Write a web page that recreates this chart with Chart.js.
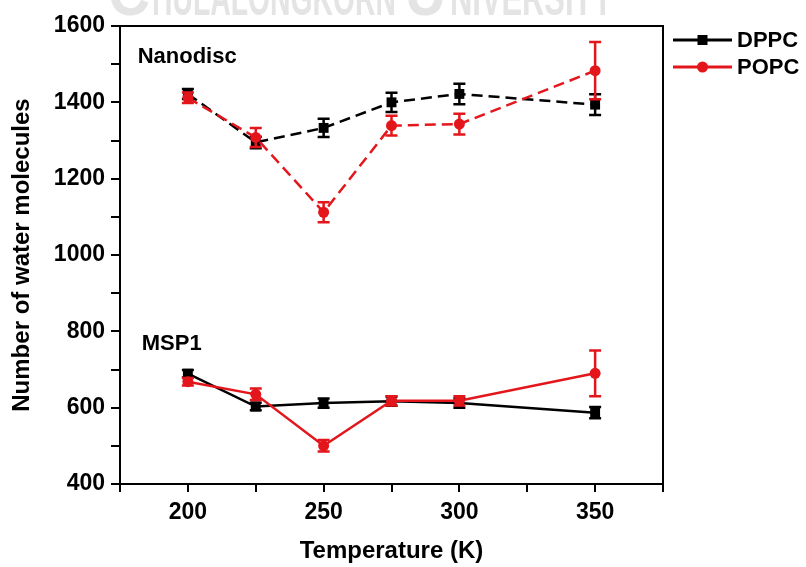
<!DOCTYPE html>
<html>
<head>
<meta charset="utf-8">
<script src="https://cdn.jsdelivr.net/npm/chart.js@4.4.1/dist/chart.umd.min.js"></script>
<style>
html,body{margin:0;padding:0;background:#fff;}
#wrap{width:806px;height:567px;position:relative;}
</style>
</head>
<body>
<div id="wrap"><canvas id="c"></canvas></div>
<script>
// ---- data ----
const temperatures = [200, 225, 250, 275, 300, 350];
const nanodiscDPPC    = [1422, 1295, 1333, 1400, 1422, 1394];
const nanodiscDPPCErr = [13, 15, 24, 25, 27, 27];
const nanodiscPOPC    = [1412, 1308, 1112, 1339, 1343, 1483];
const nanodiscPOPCErr = [14, 25, 26, 26, 27, 75];
const msp1DPPC    = [689, 603, 612, 617, 612, 587];
const msp1DPPCErr = [10, 10, 12, 12, 12, 15];
const msp1POPC    = [668, 635, 500, 618, 618, 690];
const msp1POPCErr = [10, 15, 15, 12, 12, 60];
const xTickLabels = [200, 250, 300, 350];
const yTickLabels = [400, 600, 800, 1000, 1200, 1400, 1600];
const seriesNames = ['DPPC', 'POPC'];
const groupNames = ['Nanodisc', 'MSP1'];

const BLACK = '#000000';
const RED = '#e3161c';
const FONT = '"Liberation Sans", Arial, sans-serif';

function pts(vals) { return temperatures.map((t, i) => ({x: t, y: vals[i]})); }

function ds(label, vals, errs, color, style, dashed, order) {
  return {
    label: label,
    data: pts(vals),
    errors: errs,
    borderColor: color,
    backgroundColor: color,
    borderWidth: 2.5,
    borderDash: dashed ? [11, 6] : [],
    pointStyle: style,
    pointRadius: style === 'rect' ? 7 : 5.5,
    pointBorderWidth: 0,
    pointBackgroundColor: color,
    tension: 0,
    showLine: true,
    order: order
  };
}

const errorBars = {
  id: 'errorBars',
  afterDatasetDraw(chart, args) {
    const d = chart.data.datasets[args.index];
    if (!d.errors) return;
    const ctx = chart.ctx, xs = chart.scales.x, ys = chart.scales.y;
    ctx.save();
    ctx.strokeStyle = d.borderColor;
    ctx.lineWidth = 2.5;
    ctx.setLineDash([]);
    d.data.forEach((p, i) => {
      const e = d.errors[i];
      const px = xs.getPixelForValue(p.x);
      const yt = ys.getPixelForValue(p.y + e);
      const yb = ys.getPixelForValue(p.y - e);
      ctx.beginPath();
      ctx.moveTo(px, yt); ctx.lineTo(px, yb);
      ctx.moveTo(px - 6, yt); ctx.lineTo(px + 6, yt);
      ctx.moveTo(px - 6, yb); ctx.lineTo(px + 6, yb);
      ctx.stroke();
    });
    ctx.restore();
  }
};

const decorations = {
  id: 'decorations',
  afterDraw(chart) {
    const ctx = chart.ctx, a = chart.chartArea, xs = chart.scales.x, ys = chart.scales.y;
    ctx.save();
    // frame
    ctx.strokeStyle = BLACK; ctx.lineWidth = 2; ctx.setLineDash([]);
    ctx.strokeRect(a.left, a.top, a.right - a.left, a.bottom - a.top);
    // group labels
    ctx.fillStyle = BLACK;
    ctx.font = 'bold 22px ' + FONT;
    ctx.textAlign = 'left'; ctx.textBaseline = 'middle';
    ctx.fillText(groupNames[0], xs.getPixelForValue(181.5), ys.getPixelForValue(1519));
    ctx.fillText(groupNames[1], xs.getPixelForValue(183), ys.getPixelForValue(766));
    // legend
    const colors = [BLACK, RED], styles = ['rect', 'circle'];
    ctx.font = 'bold 22px ' + FONT;
    for (let i = 0; i < 2; i++) {
      const y = a.top + 14 + i * 27;
      const x0 = a.right + 10, x1 = a.right + 69, xm = (x0 + x1) / 2;
      ctx.strokeStyle = colors[i]; ctx.lineWidth = 3;
      ctx.beginPath(); ctx.moveTo(x0, y); ctx.lineTo(x1, y); ctx.stroke();
      ctx.fillStyle = colors[i];
      if (styles[i] === 'rect') ctx.fillRect(xm - 5, y - 5, 10, 10);
      else { ctx.beginPath(); ctx.arc(xm, y, 5.5, 0, Math.PI * 2); ctx.fill(); }
      ctx.fillStyle = BLACK;
      ctx.fillText(seriesNames[i], x1 + 5, y + 1);
    }
    ctx.restore();
  },
  beforeDraw(chart) {
    // faint watermark cut by the top edge
    const ctx = chart.ctx;
    ctx.save();
    ctx.fillStyle = '#e4e4e4';
    ctx.textBaseline = 'alphabetic'; ctx.textAlign = 'left';
    const parts = [
      ['C', 108, 150, 64], ['HULALONGKORN', 152, 396, 50],
      ['U', 405, 446, 64], ['NIVERSITY', 450, 613, 50]
    ];
    parts.forEach(([t, x0, x1, size]) => {
      ctx.font = 'bold ' + size + 'px ' + FONT;
      const w = ctx.measureText(t).width;
      ctx.save();
      ctx.translate(x0, 15);
      ctx.scale((x1 - x0) / w, 1);
      ctx.fillText(t, 0, 0);
      ctx.restore();
    });
    ctx.restore();
  }
};

new Chart(document.getElementById('c'), {
  type: 'line',
  data: {
    datasets: [
      ds('Nanodisc DPPC', nanodiscDPPC, nanodiscDPPCErr, BLACK, 'rect', true, 2),
      ds('Nanodisc POPC', nanodiscPOPC, nanodiscPOPCErr, RED, 'circle', true, 1),
      ds('MSP1 DPPC', msp1DPPC, msp1DPPCErr, BLACK, 'rect', false, 2),
      ds('MSP1 POPC', msp1POPC, msp1POPCErr, RED, 'circle', false, 1)
    ]
  },
  options: {
    responsive: true,
    maintainAspectRatio: false,
    animation: false,
    layout: { padding: { top: 26, right: 143, left: 0, bottom: 0 } },
    plugins: { legend: { display: false }, tooltip: { enabled: false } },
    scales: {
      x: {
        type: 'linear', min: 175, max: 375,
        afterFit(s) { s.height = 83; },
        ticks: {
          stepSize: 25, autoSkip: false, color: BLACK, padding: 7,
          font: { family: FONT, size: 23, weight: 'bold' },
          callback: v => xTickLabels.includes(v) ? String(v) : ''
        },
        grid: { drawOnChartArea: false, drawTicks: true, tickLength: 8, color: BLACK, lineWidth: 2 },
        border: { color: BLACK, width: 2 },
        title: { display: true, text: 'Temperature (K)', color: BLACK,
                 font: { family: FONT, size: 24, weight: 'bold' }, padding: { top: 0, bottom: 1 } }
      },
      y: {
        type: 'linear', min: 400, max: 1600,
        afterFit(s) { s.width = 120; },
        ticks: {
          stepSize: 100, autoSkip: false, color: BLACK, padding: 6,
          font: { family: FONT, size: 23, weight: 'bold' },
          callback: v => yTickLabels.includes(v) ? String(v) : ''
        },
        grid: { drawOnChartArea: false, drawTicks: true, tickLength: 9, color: BLACK, lineWidth: 2 },
        border: { color: BLACK, width: 2 },
        title: { display: true, text: 'Number of water molecules', color: BLACK,
                 font: { family: FONT, size: 24, weight: 'bold' }, padding: { top: 8, bottom: 0 } }
      }
    }
  },
  plugins: [errorBars, decorations]
});
</script>
</body>
</html>
